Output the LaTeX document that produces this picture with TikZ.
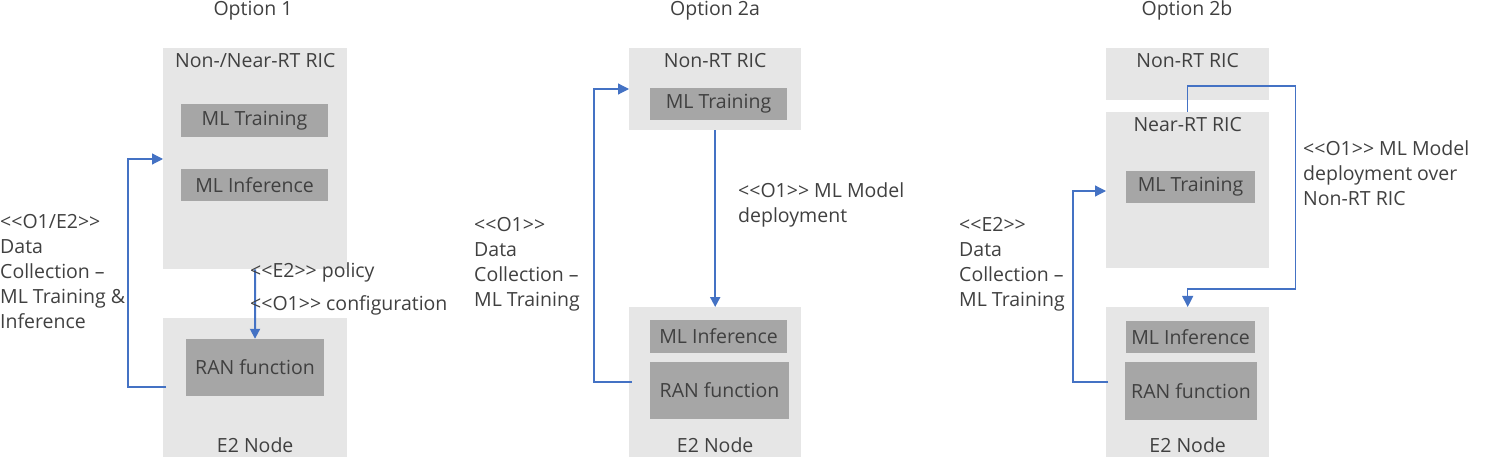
\documentclass[tikz,border=0pt]{standalone}
\usepackage{fontspec}
\setmainfont{Open Sans}
\usepackage{xcolor}
\usetikzlibrary{arrows.meta,calc,positioning}
\definecolor{boxgray}{RGB}{230,230,230}
\definecolor{fungray}{RGB}{166,166,166}
\definecolor{txtgray}{RGB}{64,64,64}
\definecolor{linkblue}{RGB}{68,114,196}
\newcommand{\iface}[1]{<{}<#1>{}>}

\begin{document}
\begin{tikzpicture}[x=1pt,y=-1pt,
    every node/.style={text=txtgray,font=\fontsize{19.5}{25}\selectfont},
    outerbox/.style={fill=boxgray,anchor=north west,inner sep=0pt},
    funbox/.style={fill=fungray,inner sep=0pt},
    note/.style={align=left,anchor=base west,inner sep=0pt},
    head/.style={anchor=base,inner sep=0pt},
    deploy/.style={draw=linkblue,line width=2pt,-{Triangle[length=10pt,width=10pt]}},
    collect/.style={draw=linkblue,line width=1.2pt,-{Triangle[length=11pt,width=11pt]}}]
  \useasboundingbox (0,0) rectangle (1492,457);

  % titles
  \node[head] (t1) at (253,16) {Option 1};
  \node[head] (t2a) at (715,16) {Option 2a};
  \node[head] (t2b) at (1187,16) {Option 2b};

  % option 1
  \node[outerbox,minimum width=184pt,minimum height=221pt] (ric1) at (163,48) {};
  \node[head] (ric1l) at ($(ric1.north)+(0,20)$) {Non-/Near-RT RIC};
  \node[funbox,minimum width=147pt,minimum height=33pt] (train1) at (254.5,120.5) {ML Training};
  \node[funbox,minimum width=147pt,minimum height=32pt] (infer1) at (254.5,185) {ML Inference};
  \node[outerbox,minimum width=184pt,minimum height=139pt] (e21) at (163,318) {};
  \node[funbox,minimum width=138pt,minimum height=57pt] (ran1) at (255,367.5) {RAN function};
  \node[head] (e21l) at ($(e21.south)+(0,-5)$) {E2 Node};
  \draw[deploy] (ric1.south) -- (ran1.north);
  \node[note] (pol1) at (250,278) {\iface{E2} policy};
  \node[note] (cfg1) at (250,310) {\iface{O1} configuration};
  \draw[collect] ($(e21.north west)+(3,69)$) -| ++(-38,-228) -- ($(ric1.north west)+(0,111)$);
  \node[note] (dc1) at (0,328) {\iface{O1/E2}\\Data\\Collection –\\ML Training \&\\Inference};

  % option 2a
  \node[outerbox,minimum width=172pt,minimum height=82pt] (ric2a) at (629,48) {};
  \node[head] (ric2al) at ($(ric2a.north)+(0,20)$) {Non-RT RIC};
  \node[funbox,minimum width=137pt,minimum height=32pt] (train2a) at (718.5,104) {ML Training};
  \node[outerbox,minimum width=172pt,minimum height=150pt] (e22a) at (629,307) {};
  \node[funbox,minimum width=137pt,minimum height=33pt] (infer2a) at (718.5,336.5) {ML Inference};
  \node[funbox,minimum width=139pt,minimum height=57pt] (ran2a) at (719.5,390.5) {RAN function};
  \node[head] (e22al) at ($(e22a.south)+(0,-5)$) {E2 Node};
  \draw[deploy] (ric2a.south) -- (e22a.north);
  \node[note] (dep2a) at (738,223) {\iface{O1} ML Model\\deployment};
  \draw[collect] ($(e22a.north west)+(3,75)$) -| ++(-38,-293) -- ($(ric2a.north west)+(0,41)$);
  \node[note] (dc2a) at (474,306) {\iface{O1}\\Data\\Collection –\\ML Training};

  % option 2b
  \node[outerbox,minimum width=163pt,minimum height=52pt] (ric2b) at (1106,48) {};
  \node[head] (ric2bl) at ($(ric2b.north)+(0,20)$) {Non-RT RIC};
  \node[outerbox,minimum width=163pt,minimum height=156pt] (near2b) at (1106,112) {};
  \node[head] (near2bl) at ($(near2b.north)+(0,20)$) {Near-RT RIC};
  \node[funbox,minimum width=129pt,minimum height=32pt] (train2b) at (1190.5,187) {ML Training};
  \node[outerbox,minimum width=163pt,minimum height=150pt] (e22b) at (1106,307) {};
  \node[funbox,minimum width=129pt,minimum height=32pt] (infer2b) at (1190.5,337) {ML Inference};
  \node[funbox,minimum width=132pt,minimum height=58pt] (ran2b) at (1191,391) {RAN function};
  \node[head] (e22bl) at ($(e22b.south)+(0,-5)$) {E2 Node};
  \draw[collect] (near2b.north) -- ++(0,-26) -| ($(e22b.north east)+(26,-18)$) -| (e22b.north);
  \node[note] (dep2b) at (1303,206) {\iface{O1} ML Model\\deployment over\\Non-RT RIC};
  \draw[collect] ($(e22b.north west)+(2,75)$) -| ++(-35,-191) -- ($(near2b.north west)+(0,79)$);
  \node[note] (dc2b) at (959,306) {\iface{E2}\\Data\\Collection –\\ML Training};
\end{tikzpicture}
\end{document}
